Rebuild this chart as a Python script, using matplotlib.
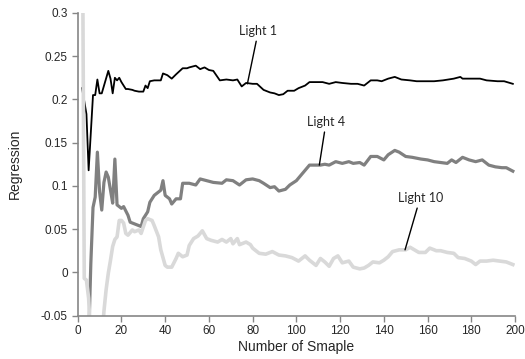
import matplotlib
matplotlib.use("Agg")
import matplotlib.pyplot as plt
from matplotlib.ticker import FuncFormatter

# Light 1 (black)
light1_x = [2, 3, 4, 5, 7, 8, 9, 10, 11, 14, 15, 16, 17, 18, 19, 20, 22, 23, 25, 26,
            28, 30, 31, 32, 33, 35, 38, 39, 41, 43, 45, 48, 50, 51, 54, 56, 58, 60, 62, 65,
            68, 71, 73, 75, 77, 80, 82, 85, 88, 90, 92, 94, 96, 99, 101, 104, 106, 109, 112, 115,
            118, 121, 125, 128, 131, 134, 137, 139, 142, 145, 148, 152, 155, 160, 163, 167, 172, 175, 176, 181,
            184, 187, 192, 195, 199]
light1_y = [0.213, 0.198, 0.183, 0.118, 0.205, 0.205, 0.223, 0.207, 0.207, 0.233, 0.224, 0.207, 0.225, 0.222, 0.225, 0.220, 0.212, 0.212, 0.211, 0.210,
            0.209, 0.209, 0.216, 0.213, 0.221, 0.222, 0.222, 0.230, 0.228, 0.224, 0.229, 0.236, 0.236, 0.237, 0.239, 0.235, 0.237, 0.234, 0.233, 0.222,
            0.223, 0.222, 0.223, 0.215, 0.219, 0.218, 0.218, 0.211, 0.208, 0.207, 0.205, 0.206, 0.210, 0.210, 0.213, 0.216, 0.220, 0.220, 0.220, 0.218,
            0.220, 0.219, 0.218, 0.218, 0.216, 0.222, 0.222, 0.221, 0.224, 0.226, 0.223, 0.222, 0.221, 0.221, 0.221, 0.222, 0.224, 0.226, 0.224, 0.224,
            0.224, 0.222, 0.221, 0.221, 0.218]

# Light 4 (dark gray)
light4_x = [4, 5, 6, 7, 8, 9, 10, 11, 12, 13, 14, 15, 16, 17, 18, 20, 21, 23, 24, 26,
            28, 29, 30, 32, 33, 35, 37, 38, 39, 40, 42, 43, 45, 47, 48, 51, 54, 56, 59, 62,
            66, 68, 71, 74, 77, 80, 83, 85, 88, 90, 92, 95, 97, 100, 102, 104, 106, 109, 111, 113,
            115, 118, 121, 124, 126, 129, 131, 134, 137, 140, 142, 145, 147, 150, 153, 157, 160, 163, 166, 169,
            171, 173, 176, 179, 182, 185, 188, 191, 194, 196, 199]
light4_y = [-0.12, -0.08, 0.01, 0.075, 0.087, 0.139, 0.093, 0.072, 0.104, 0.116, 0.110, 0.095, 0.080, 0.131, 0.078, 0.074, 0.076, 0.066, 0.058, 0.056,
            0.054, 0.053, 0.062, 0.070, 0.081, 0.089, 0.093, 0.095, 0.106, 0.089, 0.085, 0.079, 0.085, 0.085, 0.103, 0.103, 0.101, 0.108, 0.106, 0.104,
            0.103, 0.107, 0.106, 0.101, 0.107, 0.108, 0.106, 0.103, 0.098, 0.099, 0.094, 0.096, 0.101, 0.106, 0.112, 0.118, 0.124, 0.124, 0.124, 0.125,
            0.124, 0.128, 0.126, 0.128, 0.126, 0.127, 0.124, 0.134, 0.134, 0.130, 0.136, 0.141, 0.139, 0.134, 0.133, 0.131, 0.130, 0.128, 0.127, 0.126,
            0.130, 0.127, 0.133, 0.130, 0.128, 0.130, 0.124, 0.122, 0.121, 0.121, 0.117]

# Light 10 (light gray)
light10_x = [2, 3, 4, 5, 6, 11, 12, 13, 14, 15, 16, 17, 18, 19, 20, 21, 22, 23, 25, 26,
             28, 29, 31, 32, 34, 35, 37, 38, 40, 41, 43, 45, 46, 48, 50, 51, 53, 55, 57, 59,
             61, 64, 66, 68, 70, 71, 73, 74, 77, 79, 80, 83, 86, 89, 92, 95, 98, 101, 104, 106,
             109, 111, 113, 115, 117, 119, 121, 124, 126, 129, 131, 133, 135, 138, 140, 142, 144, 147, 150, 152,
             154, 156, 159, 161, 164, 166, 169, 172, 174, 177, 180, 182, 184, 187, 190, 193, 196, 199]
light10_y = [0.5, -0.007, -0.009, -0.03, -0.08, -0.08, -0.045, -0.02, -0.001, 0.014, 0.030, 0.038, 0.041, 0.060, 0.060, 0.057, 0.045, 0.043, 0.049, 0.047,
             0.049, 0.045, 0.060, 0.062, 0.060, 0.054, 0.041, 0.026, 0.008, 0.006, 0.006, 0.016, 0.022, 0.018, 0.020, 0.031, 0.039, 0.042, 0.048, 0.039,
             0.037, 0.035, 0.038, 0.035, 0.039, 0.033, 0.039, 0.032, 0.035, 0.032, 0.028, 0.022, 0.021, 0.024, 0.020, 0.019, 0.017, 0.013, 0.019, 0.014,
             0.008, 0.016, 0.012, 0.007, 0.016, 0.019, 0.011, 0.013, 0.006, 0.004, 0.005, 0.008, 0.012, 0.011, 0.014, 0.018, 0.024, 0.026, 0.026, 0.029,
             0.026, 0.023, 0.023, 0.028, 0.025, 0.025, 0.023, 0.022, 0.017, 0.016, 0.013, 0.009, 0.013, 0.013, 0.014, 0.013, 0.012, 0.009]

x_ticks = [0, 20, 40, 60, 80, 100, 120, 140, 160, 180, 200]
y_ticks = [-0.05, 0, 0.05, 0.1, 0.15, 0.2, 0.25, 0.3]

plt.rcParams['font.family'] = ['Liberation Sans', 'DejaVu Sans']

fig = plt.figure(figsize=(5.25, 3.59), dpi=100)
ax = fig.add_axes([0.148, 0.121, 0.833, 0.843])

ax.plot(light1_x, light1_y, color='black', lw=1.3, solid_joinstyle='round')
ax.plot(light4_x, light4_y, color='#808080', lw=2.3, solid_joinstyle='round')
ax.plot(light10_x, light10_y, color='#d9d9d9', lw=2.6, solid_joinstyle='round')

ax.set_xlim(0, 200)
ax.set_ylim(-0.05, 0.3)
ax.set_xticks(x_ticks)
ax.set_yticks(y_ticks)
ax.yaxis.set_major_formatter(FuncFormatter(lambda v, pos: f"{v:g}"))

for side in ['top', 'right']:
    ax.spines[side].set_visible(False)
for side in ['left', 'bottom']:
    ax.spines[side].set_color('#868686')
    ax.spines[side].set_linewidth(1.2)
ax.tick_params(axis='both', direction='out', length=4, width=1, color='#868686',
               labelsize=8.5, labelcolor='#262626', pad=3)

ax.set_xlabel('Number of Smaple', fontsize=10, color='#262626', labelpad=2)
ax.set_ylabel('Regression', fontsize=10, color='#262626', labelpad=14)

lbl_font = dict(family=['Lato', 'DejaVu Sans'], fontsize=9, color='#262626', ha='center', va='center')
arrow = dict(arrowstyle='-', color='black', lw=1, shrinkA=1, shrinkB=0)
ax.annotate('Light 1', xy=(77.6, 0.218), xytext=(82.6, 0.279), arrowprops=arrow, **lbl_font)
ax.annotate('Light 4', xy=(110.5, 0.124), xytext=(113.6, 0.174), arrowprops=arrow, **lbl_font)
ax.annotate('Light 10', xy=(149.7, 0.026), xytext=(156.6, 0.086), arrowprops=arrow, **lbl_font)

fig.savefig('out.png', dpi=100)
